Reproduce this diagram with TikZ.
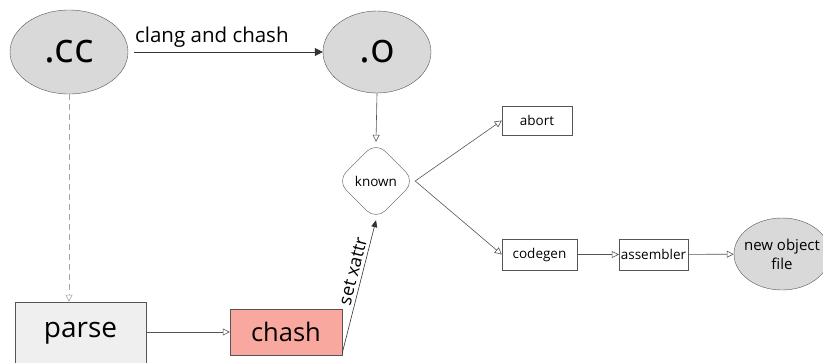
\documentclass[tikz,border=0pt]{standalone}
\usepackage{fontspec}
\setmainfont{Open Sans}
\usetikzlibrary{arrows.meta,shapes.geometric}
\definecolor{edgegray}{HTML}{555555}
\definecolor{blobfill}{HTML}{D9D9D9}
\definecolor{parsefill}{HTML}{EFEFEF}
\definecolor{chashfill}{HTML}{F9A89F}
\tikzset{
  blob/.style={ellipse, draw=edgegray, fill=blobfill, inner sep=0pt},
  stepbox/.style={rectangle, draw=edgegray, fill=white, inner sep=0pt, font=\fontsize{13.5}{15}\selectfont},
  flow/.style={draw=edgegray, line width=0.6pt, -{Triangle[open, length=7pt, width=7pt]}},
  solidflow/.style={draw=black!80, line width=0.6pt, -{Triangle[length=8pt, width=8pt]}},
}
\begin{document}
\begin{tikzpicture}[x=1pt, y=-1pt]
  \useasboundingbox (0,0) rectangle (823,362);
  % source and object files
  \node[blob, minimum width=118pt, minimum height=84pt, font=\fontsize{41}{43}\selectfont] (cc) at (69,52) {.cc};
  \node[blob, minimum width=108pt, minimum height=82pt, font=\fontsize{41}{43}\selectfont] (obj) at (377,52) {.o};
  % build stages
  \node[rectangle, draw=edgegray, fill=parsefill, minimum width=131pt, minimum height=62pt, inner sep=0pt, font=\fontsize{28}{30}\selectfont] (parse) at (80.5,333) {parse};
  \node[rectangle, draw=edgegray, fill=chashfill, minimum width=112pt, minimum height=46pt, inner sep=0pt, font=\fontsize{25.5}{27}\selectfont] (chash) at (286,332) {chash};
  \node[diamond, draw=edgegray, fill=white, rounded corners=13pt, minimum width=78pt, minimum height=78pt, inner sep=0pt, font=\fontsize{13.5}{15}\selectfont] (known) at (376,181) {known};
  \node[stepbox, minimum width=70pt, minimum height=29pt] (abort) at (537,120.5) {abort};
  \node[stepbox, minimum width=75pt, minimum height=31pt] (codegen) at (539.5,254.5) {codegen};
  \node[stepbox, minimum width=69pt, minimum height=31pt] (asm) at (653.5,254.5) {assembler};
  \node[blob, inner xsep=-5pt, minimum width=96pt, minimum height=72pt, align=center, font=\fontsize{15}{19}\selectfont] (newobj) at (782,254) {new object\\file};
  % connectors
  \draw[solidflow, shorten <=6pt] (cc.east |- 0,52) -- node[above, pos=0.43, font=\fontsize{20.5}{22}\selectfont, yshift=1pt] {clang and chash} (obj.west |- 0,52);
  \draw[flow, dashed, draw=gray!70, dash pattern=on 6pt off 4pt] (cc.south) -- (cc.south |- parse.north);
  \draw[flow] (parse.east |- 0,332) -- (chash.west);
  \draw[flow] (obj.south) -- (known.north);
  \draw[draw=black!80, line width=0.6pt, -{Triangle[length=7pt, width=6pt]}] (chash.south east) ++(0,-2) coordinate (cs) (cs) -- node[sloped, above, pos=0.6, font=\fontsize{18}{20}\selectfont] {set xattr} (known.south);
  \draw[flow] (known.east) -- (abort.west);
  \draw[flow] (known.east) -- (codegen.west);
  \draw[flow] (codegen) -- (asm);
  \draw[flow] (asm) -- (newobj);
\end{tikzpicture}
\end{document}
